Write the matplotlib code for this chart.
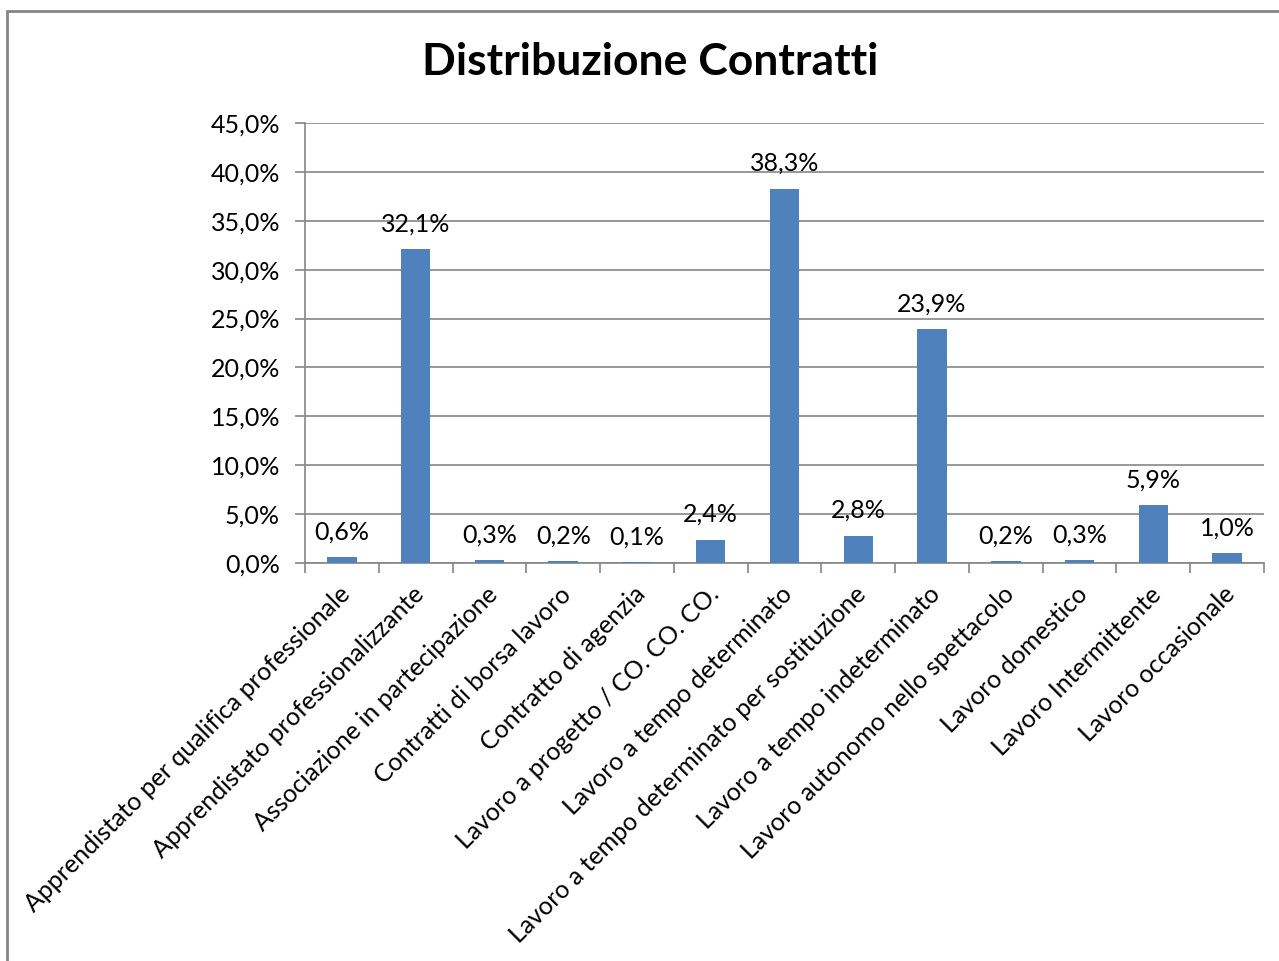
import matplotlib
matplotlib.use("Agg")
import matplotlib.pyplot as plt
from matplotlib.patches import Rectangle
from matplotlib.ticker import FuncFormatter, MultipleLocator
from matplotlib.transforms import ScaledTranslation

categories = [
    "Apprendistato per qualifica professionale",
    "Apprendistato professionalizzante",
    "Associazione in partecipazione",
    "Contratti di borsa lavoro",
    "Contratto di agenzia",
    "Lavoro a progetto / CO. CO. CO.",
    "Lavoro a tempo determinato",
    "Lavoro a tempo determinato per sostituzione",
    "Lavoro a tempo indeterminato",
    "Lavoro autonomo nello spettacolo",
    "Lavoro domestico",
    "Lavoro Intermittente",
    "Lavoro occasionale",
]
values = [0.6, 32.1, 0.3, 0.2, 0.1, 2.4, 38.3, 2.8, 23.9, 0.2, 0.3, 5.9, 1.0]
title = "Distribuzione Contratti"

plt.rcParams['font.family'] = ['Lato', 'DejaVu Sans']

W, H = 1279, 961
fig = plt.figure(figsize=(W / 100, H / 100), dpi=100)
ax = fig.add_axes([305 / W, (H - 563) / H, 959 / W, 440 / H])

x = list(range(len(categories)))
ax.bar(x, values, width=0.4, color="#4F81BD", zorder=3)
ax.set_xlim(-0.5, len(categories) - 0.5)
ax.set_ylim(0, 45)
ax.yaxis.set_major_locator(MultipleLocator(5))
ax.yaxis.set_major_formatter(FuncFormatter(lambda v, p: f"{v:.1f}%".replace(".", ",")))
ax.grid(axis="y", color="#868686", linewidth=1.2, zorder=0)

for s in ["top", "right"]:
    ax.spines[s].set_visible(False)
for s in ["left", "bottom"]:
    ax.spines[s].set_color("#868686")
    ax.spines[s].set_linewidth(1.2)

ax.tick_params(axis="y", length=7, color="#868686", width=1.2, labelsize=18, pad=11)
ax.set_xticks([i - 0.5 for i in range(len(categories) + 1)], minor=False)
ax.set_xticklabels([])
ax.tick_params(axis="x", which="major", length=7, color="#868686", width=1.2)
ax.set_xticks(x, minor=True)
ax.tick_params(axis="x", which="minor", length=0, pad=14)
ax.set_xticklabels(categories, minor=True, rotation=45, ha="right", va="top",
                   rotation_mode="anchor", fontsize=18)
for lbl in ax.get_xticklabels(minor=True):
    lbl.set_transform(lbl.get_transform() + ScaledTranslation(-4 / 100, 0, fig.dpi_scale_trans))

for xi, v in zip(x, values):
    ax.annotate(f"{v:.1f}%".replace(".", ","), (xi, v), xytext=(0, 10),
                textcoords="offset points", ha="center", va="bottom", fontsize=18)

fig.text(650 / W, 1 - 62 / H, title, ha="center", va="center", fontsize=32, fontweight="bold")

fig.patches.append(Rectangle((7 / W, -0.1), 1.2, (H - 11) / H + 0.1, transform=fig.transFigure,
                             fill=False, edgecolor="#868686", linewidth=2))

fig.savefig("out.png", dpi=100)
